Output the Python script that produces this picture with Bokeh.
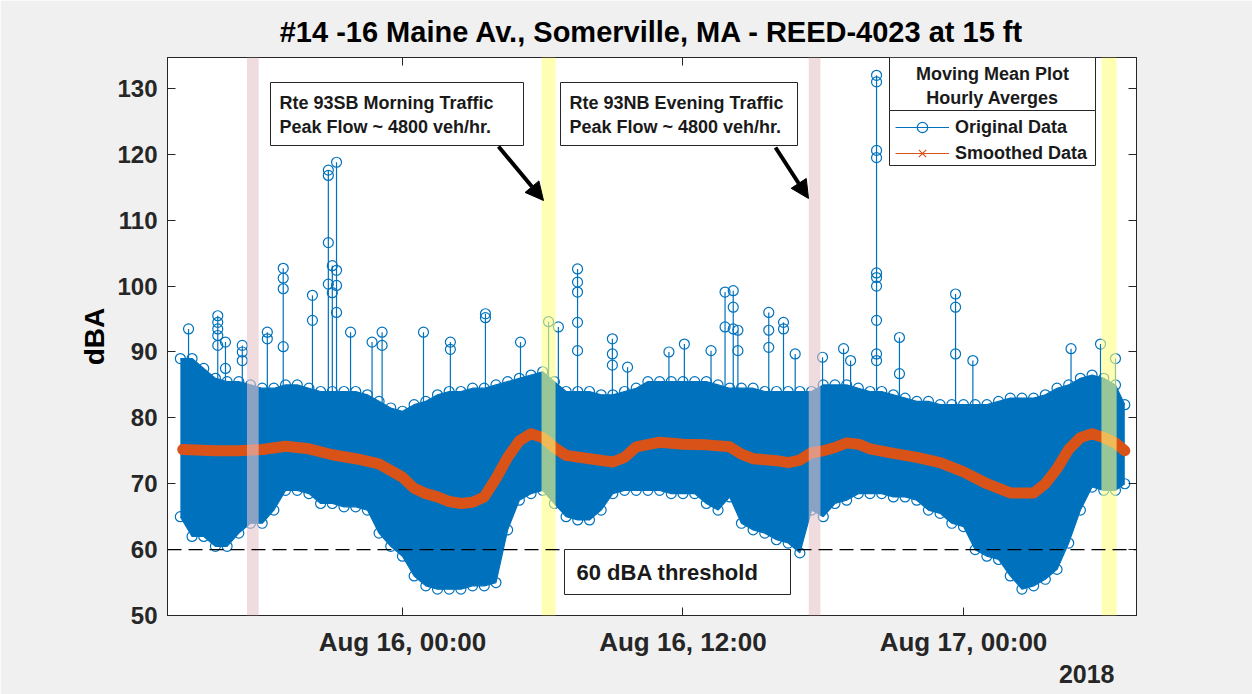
import numpy as np
from datetime import datetime, timezone
from bokeh.plotting import figure
from bokeh.models import (Range1d, FixedTicker, DatetimeTickFormatter, DatetimeAxis, LinearAxis,
                          Span, BoxAnnotation, Label, Arrow, NormalHead, Legend, LegendItem, Title)
from bokeh.embed import file_html
from bokeh.resources import INLINE

# ---------------- data (hours relative to Aug 16 2018 00:00) ----------------
env_hours = [-9.5, -9.0, -8.5, -8.0, -7.5, -7.0, -6.5, -6.0, -5.5, -5.0, -4.5, -4.0, -3.5, -3.0,
             -2.5, -2.0, -1.5, -1.0, -0.5, 0.0, 0.5, 1.0, 1.5, 2.0, 2.5, 3.0, 3.5, 4.0, 4.5, 5.0,
             5.5, 6.0, 6.5, 7.0, 7.5, 8.0, 8.5, 9.0, 9.5, 10.0, 10.5, 11.0, 11.5, 12.0, 12.5, 13.0,
             13.5, 14.0, 14.5, 15.0, 15.5, 16.0, 16.5, 17.0, 17.5, 18.0, 18.5, 19.0, 19.5, 20.0,
             20.5, 21.0, 21.5, 22.0, 22.5, 23.0, 23.5, 24.0, 24.5, 25.0, 25.5, 26.0, 26.5, 27.0,
             27.5, 28.0, 28.5, 29.0, 29.5, 30.0, 30.5, 30.9]
upper_dba = [89, 89, 87.5, 86, 85.5, 85.5, 85, 84.5, 84.5, 85, 85, 84.5, 84, 84,
             84, 84, 83.5, 82.5, 81.5, 81, 82, 82.5, 83.5, 84, 84, 84.5, 84.5, 85, 85.5, 86,
             86.5, 87, 85.5, 84, 84, 84, 83.5, 83.5, 84, 84.5, 85.5, 85.5, 85.5, 85.5, 85.5, 85.5,
             85, 84.5, 84.5, 84.5, 84, 84, 84, 84, 84, 85, 85, 85, 84.5, 84,
             84, 83.5, 83, 82.5, 82.5, 82, 82, 82, 82, 82, 82.5, 83, 83, 83,
             83.5, 84.5, 85, 86, 86.5, 86, 85, 82]
lower_dba = [65, 62, 62, 60.5, 60.5, 62.5, 64, 64, 66, 69, 69, 68.5, 67, 67,
             66.5, 66.5, 66, 62.5, 60.5, 59, 56, 54.5, 54, 54, 54, 54.5, 54.5, 55, 63, 67.5,
             68.5, 69, 67, 65, 64.5, 64.5, 66, 68.5, 69, 69, 69, 69, 68.5, 68.5, 68.5, 67,
             66, 68, 64, 63, 62.5, 61.5, 61, 59.5, 66, 65, 67, 67.5, 68.5, 68.5,
             68.5, 68, 68, 67.5, 66, 65.5, 64, 63.5, 60, 59, 58.5, 56, 54, 54.5,
             55.5, 57, 61, 66, 69.5, 69, 69, 70]

smooth_hours = [-9.4, -8, -7, -6, -5, -4, -3, -2, -1, 0, 0.5, 1, 1.5, 2, 2.5, 3, 3.5, 4, 4.5, 5,
                5.5, 6, 6.5, 7, 8, 9, 9.5, 10, 11, 12, 13, 14, 14.5, 15, 16, 16.5, 17, 17.5, 18,
                18.5, 19, 19.5, 20, 21, 22, 23, 24, 25, 26, 27, 27.5, 28, 28.5, 29, 29.5, 30,
                30.5, 30.9]
smooth_dba = [75.2, 75, 75, 75.2, 75.7, 75.3, 74.4, 73.8, 73, 71, 69.3, 68.5, 68, 67.3, 67, 67.2,
              68, 70.8, 74, 76.5, 77.6, 77, 75.5, 74.3, 73.8, 73.3, 74, 75.6, 76.3, 76, 75.9,
              75.6, 74.5, 73.8, 73.5, 73.2, 73.6, 74.7, 75, 75.5, 76.2, 76, 75.3, 74.6, 74,
              73.2, 71.8, 70, 68.6, 68.6, 70, 72.3, 75.2, 77, 77.6, 77, 76.2, 75]

spike_hours = [-9.15, -7.9, -7.57, -6.85, -5.78, -5.1, -3.85, -3.17, -3.0, -2.82, -2.22, -1.3,
               -0.87, 0.9, 2.05, 3.55, 5.05, 6.25, 6.67, 7.49, 8.98, 9.63, 11.4, 12.06, 13.2,
               13.8, 14.15, 14.35, 15.67, 16.3, 16.8, 17.97, 18.87, 19.17, 20.28, 21.26, 23.66,
               24.4, 28.6, 29.86, 30.5]
spike_dba = [[93.5], [95.5, 94.5, 93.5, 92.5, 91], [91.5, 87.5], [91, 90, 88.7], [93, 92],
             [102.7, 101.2, 99.6, 90.8], [98.6, 94.8], [117.6, 116.8, 106.6, 100.3], [103.1, 99],
             [118.8, 102.4, 100.1, 96], [93], [91.5], [93, 91], [93], [91.5, 90.4], [95.8, 95.2],
             [91.5], [94.6], [93.8], [102.6, 100.6, 99.1, 94.5, 90.2], [92, 89.7, 88], [87.7],
             [90], [91.2], [90.2], [99.1, 93.8], [99.3, 96.8, 93.5], [93.3, 90.2],
             [96, 93.3, 90.7], [94.5, 93.5], [89.7], [89.2], [90.5], [88.7],
             [132, 131, 120.6, 119.5, 102, 101.3, 100, 94.8, 89.7, 88.7], [92.2, 86.7],
             [98.8, 96.8, 89.7], [88.7], [90.5], [91.2], [89]]

band_start = [-6.65, 5.95, 17.38, 29.9]
band_end = [-6.15, 6.55, 17.88, 30.55]
band_color = ["#e6c3c8", "#ffff80", "#e6c3c8", "#ffff80"]

y_ticks = [50, 60, 70, 80, 90, 100, 110, 120, 130]
x_tick_hours = [0, 12, 24]
threshold = 60

# ---------------- helpers ----------------
T0 = datetime(2018, 8, 16, 0, 0, tzinfo=timezone.utc).timestamp() * 1000.0
HOUR = 3600000.0


def t(h):
    return T0 + np.asarray(h, dtype=float) * HOUR


XH0, XH1 = -10.05, 31.40
Y0, Y1 = 50.0, 134.7
W, H = 1252, 694
# pixel geometry of the frame (for placing annotations)
FL, FR, FT, FB = 167.0, 1136.0, 57.0, 615.0


def hx(px):
    return float(t(XH0 + (px - FL) / (FR - FL) * (XH1 - XH0)))


def vy(py):
    return Y1 - (py - FT) / (FB - FT) * (Y1 - Y0)


BLUE = "#0072BD"
ORANGE = "#D95319"
DARK = "#262626"
FONT = "Liberation Sans"

p = figure(width=W, height=H, x_axis_type="datetime", output_backend="svg",
           toolbar_location=None, x_range=Range1d(float(t(XH0)), float(t(XH1))),
           y_range=Range1d(Y0, Y1),
           title="#14 -16 Maine Av., Somerville, MA - REED-4023 at 15 ft",
           min_border_left=int(FL), min_border_right=int(W - FR), min_border_top=int(FT),
           min_border_bottom=int(H - FB))
p.border_fill_color = "#f0f0f0"
p.background_fill_color = "white"
p.outline_line_color = DARK
p.outline_line_width = 1
p.xgrid.visible = False
p.ygrid.visible = False

p.title.align = "center"
p.title.text_font = FONT
p.title.text_font_style = "bold"
p.title.text_font_size = "29px"
p.title.text_color = "#000000"
p.title.standoff = 20

xt_vals = [float(v) for v in t(x_tick_hours)]
xt = FixedTicker(ticks=xt_vals)
fmt = "%b %d, %H:%M"
dtf = DatetimeTickFormatter(hours=fmt, days=fmt, hourmin=fmt, minutes=fmt, months=fmt,
                            minsec=fmt, seconds=fmt, milliseconds=fmt, years=fmt)
yt = FixedTicker(ticks=y_ticks)

for ax in (p.xaxis[0], p.yaxis[0]):
    ax.major_tick_in = 8
    ax.major_tick_out = 0
    ax.minor_tick_in = 0
    ax.minor_tick_out = 0
    ax.axis_line_color = DARK
    ax.major_tick_line_color = DARK
    ax.major_label_text_font = FONT
    ax.major_label_text_font_style = "bold"
    ax.major_label_text_color = DARK

p.xaxis[0].ticker = xt
p.xaxis[0].formatter = dtf
p.xaxis[0].major_label_text_font_size = "26px"
p.xaxis[0].major_label_standoff = 11
p.yaxis[0].ticker = yt
p.yaxis[0].major_label_text_font_size = "24px"
p.yaxis[0].major_label_standoff = 10
p.yaxis[0].axis_label = "dBA"
p.yaxis[0].axis_label_text_font = FONT
p.yaxis[0].axis_label_text_font_style = "bold"
p.yaxis[0].axis_label_text_font_size = "28px"
p.yaxis[0].axis_label_text_color = "#000000"
p.yaxis[0].axis_label_standoff = 4

top_ax = DatetimeAxis(ticker=xt, formatter=dtf, major_tick_in=8, major_tick_out=0,
                      minor_tick_in=0, minor_tick_out=0, major_label_text_font_size="1px",
                      major_label_standoff=0, major_label_overrides={v: "" for v in xt_vals},
                      axis_line_color=DARK, major_tick_line_color=DARK)
right_ax = LinearAxis(ticker=yt, major_tick_in=8, major_tick_out=0, minor_tick_in=0,
                      minor_tick_out=0, major_label_text_font_size="1px", major_label_standoff=0,
                      major_label_overrides={v: "" for v in y_ticks},
                      axis_line_color=DARK, major_tick_line_color=DARK)
p.add_layout(top_ax, "above")
p.add_layout(right_ax, "right")

# "2018" date context label under the axis, right aligned
p.add_layout(Title(text="2018", align="right", offset=22, standoff=6, text_font=FONT,
                   text_font_style="bold", text_font_size="25px", text_color=DARK), "below")

# ---------------- original data ----------------
sx, sy, top_val = [], [], []
for h, vals in zip(spike_hours, spike_dba):
    for v in vals:
        sx.append(float(t(h)))
        sy.append(v)
    top_val.append(max(vals))
p.segment(x0=t(spike_hours), y0=[78] * len(spike_hours), x1=t(spike_hours),
          y1=top_val, line_color=BLUE, line_width=1.2)
p.scatter(sx, sy, marker="circle", size=10, fill_alpha=0, line_color=BLUE, line_width=1.2)

ex = t(env_hours)
p.varea(x=ex, y1=lower_dba, y2=upper_dba, fill_color=BLUE)
orig_line = p.line(ex, upper_dba, line_color=BLUE, line_width=1.2)
p.line(ex, lower_dba, line_color=BLUE, line_width=1.2)
orig_mark = p.scatter(ex, upper_dba, marker="circle", size=10, fill_alpha=0, line_color=BLUE,
                      line_width=1.2)
p.scatter(ex, lower_dba, marker="circle", size=10, fill_alpha=0, line_color=BLUE, line_width=1.2)

# ---------------- smoothed data ----------------
sm_thin = p.line(t(smooth_hours), smooth_dba, line_color=ORANGE, line_width=1.2)
sm_mark = p.scatter(t(smooth_hours), smooth_dba, marker="x", size=10, line_color=ORANGE,
                    line_width=1.2)
p.line(t(smooth_hours), smooth_dba, line_color=ORANGE, line_width=11, line_join="round",
       line_cap="round")

# ---------------- highlight bands ----------------
for bs, be, bc in zip(band_start, band_end, band_color):
    p.add_layout(BoxAnnotation(left=float(t(bs)), right=float(t(be)), fill_color=bc,
                               fill_alpha=0.6, line_alpha=0))

# ---------------- threshold ----------------
p.add_layout(Span(location=threshold, dimension="width", line_color="#000000",
                  line_dash="14 7", line_width=1.3))


def box(l, r, tp, b):
    p.add_layout(BoxAnnotation(left=hx(l), right=hx(r), top=vy(tp), bottom=vy(b),
                               fill_color="white", fill_alpha=1, line_color=DARK,
                               line_width=1, line_alpha=1))


def label(px, py, text, size="18px", align="left"):
    p.add_layout(Label(x=hx(px), y=vy(py), text=text, text_font=FONT, text_font_style="bold",
                       text_font_size=size, text_color="#1a1a1a", text_align=align,
                       text_baseline="middle"))


# annotation boxes
box(270, 523, 82, 145)
label(279, 102, "Rte 93SB Morning Traffic")
label(279, 126, "Peak Flow ~ 4800 veh/hr.")
box(560, 797, 82, 145)
label(569, 102, "Rte 93NB Evening Traffic")
label(569, 126, "Peak Flow ~ 4800 veh/hr.")

p.add_layout(Arrow(end=NormalHead(size=18, fill_color="black", line_color="black"),
                   x_start=hx(498), y_start=vy(146), x_end=hx(543), y_end=vy(200),
                   line_color="black", line_width=4))
p.add_layout(Arrow(end=NormalHead(size=18, fill_color="black", line_color="black"),
                   x_start=hx(775), y_start=vy(147), x_end=hx(808), y_end=vy(198),
                   line_color="black", line_width=4))

box(564, 790, 549, 594)
label(576, 572, "60 dBA threshold", size="22px")

# legend
box(889, 1095, 57, 110)
box(889, 1095, 110, 165)
label(992, 73, "Moving Mean Plot", align="center")
label(992, 97, "Hourly Averges", align="center")

legend = Legend(items=[LegendItem(label="Original Data", renderers=[orig_line, orig_mark]),
                       LegendItem(label="Smoothed Data", renderers=[sm_thin, sm_mark])],
                location=(895 - FL, FB - 166), padding=0, margin=0, spacing=0,
                glyph_width=54, glyph_height=26, label_height=26, label_standoff=6,
                border_line_alpha=0, background_fill_alpha=0,
                label_text_font=FONT, label_text_font_style="bold",
                label_text_font_size="18px", label_text_color="#1a1a1a")
p.add_layout(legend)

open("out.html", "w").write(file_html(p, INLINE))
